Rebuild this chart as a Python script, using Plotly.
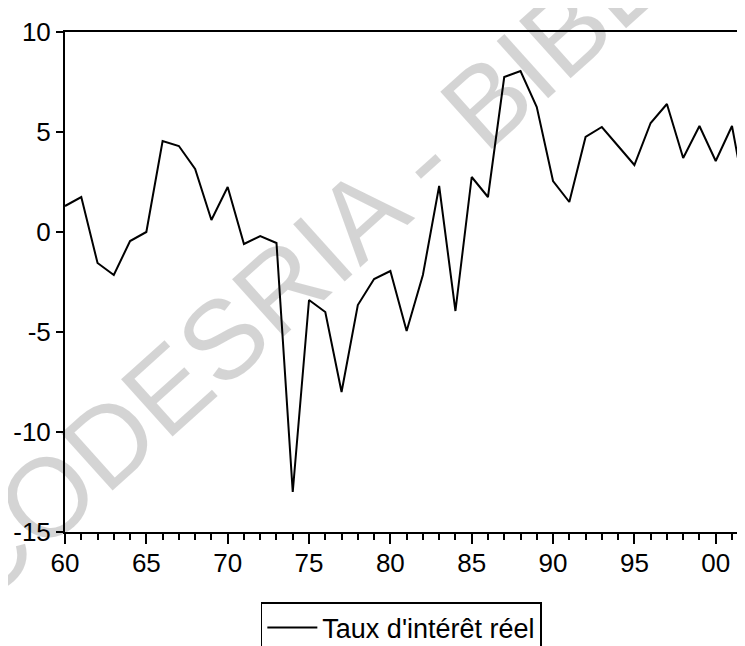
import plotly.graph_objects as go

years = list(range(1960, 2003))
taux_reel = [1.3, 1.75, -1.55, -2.15, -0.45, 0.0, 4.55, 4.3, 3.15, 0.6,
             2.25, -0.6, -0.2, -0.55, -13.0, -3.4, -4.0, -8.0, -3.65, -2.35,
             -1.95, -4.95, -2.15, 2.3, -3.95, 2.75, 1.75, 7.75, 8.05, 6.25,
             2.55, 1.5, 4.75, 5.25, 4.3, 3.35, 5.45, 6.4, 3.7, 5.3,
             3.55, 5.3, 0.9]
series_name = "Taux d'intérêt réel"
x_tickvals = [1960, 1965, 1970, 1975, 1980, 1985, 1990, 1995, 2000]
x_ticktext = ["60", "65", "70", "75", "80", "85", "90", "95", "00"]
y_tickvals = [-15, -10, -5, 0, 5, 10]
y_ticktext = ["-15", "-10", "-5", "0", "5", "10"]
watermark = "CODESRIA - BIBLIOTHEQUE"

FONT = "Liberation Sans, Arial, Helvetica, sans-serif"

fig = go.Figure()
fig.add_trace(go.Scatter(
    x=years, y=taux_reel, mode="lines", name=series_name,
    line=dict(color="black", width=2),
))

fig.update_layout(
    width=745, height=646,
    margin=dict(l=57, r=8, t=24, b=122, autoexpand=False),
    paper_bgcolor="white", plot_bgcolor="white",
    font=dict(family=FONT, color="black", size=25),
    showlegend=True,
    legend=dict(
        x=0.288, y=-0.14, xanchor="left", yanchor="top",
        bordercolor="black", borderwidth=1.5,
        font=dict(size=27, family=FONT, color="black"),
        bgcolor="rgba(255,255,255,0)",
        itemwidth=50,
    ),
    annotations=[dict(
        text=watermark, xref="paper", yref="paper",
        x=0.662, y=0.91, xanchor="center", yanchor="middle",
        showarrow=False, textangle=-42,
        font=dict(size=112, family=FONT, color="rgba(0,0,0,0.17)"),
    )],
)

fig.update_xaxes(
    range=[1960, 2001.8],
    tickmode="array", tickvals=x_tickvals, ticktext=x_ticktext,
    ticks="outside", ticklen=10, tickwidth=2, tickcolor="black",
    showline=True, linecolor="black", linewidth=2, mirror=True,
    showgrid=False, zeroline=False,
    tickfont=dict(size=26, family=FONT, color="black"),
    ticklabelstandoff=-3,
    minor=dict(dtick=1, ticks="outside", ticklen=6, tickwidth=1.5,
               tickcolor="black", showgrid=False),
)
fig.update_yaxes(
    range=[-15, 10],
    tickmode="array", tickvals=y_tickvals, ticktext=y_ticktext,
    ticks="outside", ticklen=7, tickwidth=1.5, tickcolor="black",
    showline=True, linecolor="black", linewidth=2, mirror=False,
    showgrid=False, zeroline=False,
    tickfont=dict(size=26, family=FONT, color="black"),
)

fig.write_html("out.html")
